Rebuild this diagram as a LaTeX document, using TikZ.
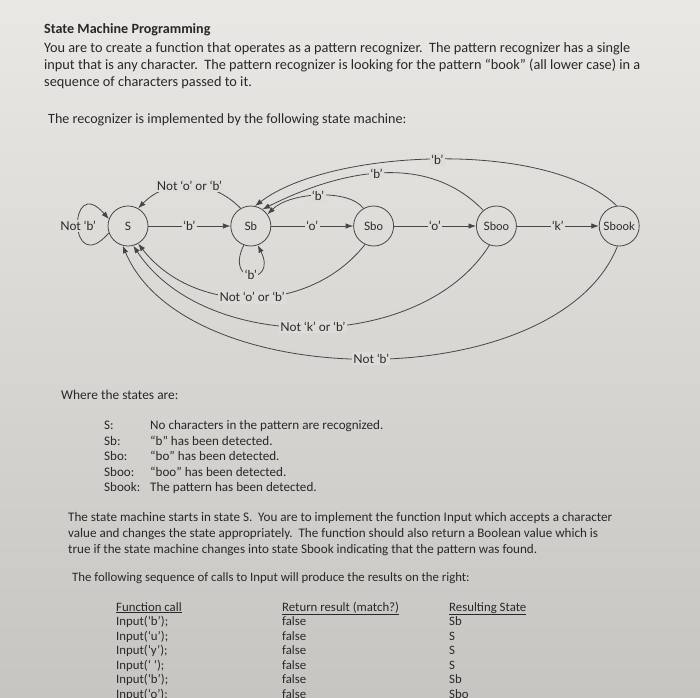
\documentclass[tikz,border=0pt]{standalone}
\usepackage{fontspec}
\setmainfont{Carlito}
\newfontfamily\diagfont{Lato}
\usetikzlibrary{positioning,arrows.meta}

\definecolor{papertop}{RGB}{234,232,229}
\definecolor{paperlow}{RGB}{199,197,193}
\definecolor{paper}{RGB}{222,220,216}
\definecolor{ink}{RGB}{40,40,40}
\definecolor{wire}{RGB}{70,70,70}

\begin{document}
\begin{tikzpicture}[
    x=1pt, y=-1pt,
    node distance=82pt,
    state/.style={
        draw=wire,
        line width=0.8pt,
        circle,
        minimum size=40pt,
        inner sep=0pt,
        text=ink,
        font=\diagfont\fontsize{11.5}{13}\selectfont
    },
    lbl/.style={fill=paper, inner sep=1.5pt, text=ink, font=\diagfont\fontsize{12.3}{14}\selectfont},
    arrow/.style={-{Latex[length=7.5pt,width=5.5pt]}, line width=0.8pt, draw=wire},
    para/.style={anchor=base west, inner sep=0pt, align=left, text=ink}
]

\useasboundingbox (0,0) rectangle (700,697);
\shade[top color=papertop, bottom color=paperlow] (0,0) rectangle (700,697);

% heading and introduction (a multi-line node sits on its last baseline)
\node[para, font=\bfseries\fontsize{14.1}{17}\selectfont] (title) at (44,33.5) {State Machine Programming};
\node[para, font=\fontsize{14.3}{17}\selectfont] (intro) at (44,86) {
You are to create a function that operates as a pattern recognizer.\ \ The pattern recognizer has a single\\
input that is any character.\ \ The pattern recognizer is looking for the pattern “book” (all lower case) in a\\
sequence of characters passed to it.
};
\node[para, font=\fontsize{14.1}{17}\selectfont] (lead) at (48,123) {The recognizer is implemented by the following state machine:};

% states
\node[state] (S) at (128,226) {S};
\node[state, right=of S] (Sb) {Sb};
\node[state, right=of Sb] (Sbo) {Sbo};
\node[state, right=of Sbo] (Sboo) {Sboo};
\node[state, right=of Sboo] (Sbook) {Sbook};

% forward transitions
\draw[arrow] (S) -- node[lbl] {‘b’} (Sb);
\draw[arrow] (Sb) -- node[lbl] {‘o’} (Sbo);
\draw[arrow] (Sbo) -- node[lbl] {‘o’} (Sboo);
\draw[arrow] (Sboo) -- node[lbl] {‘k’} (Sbook);

% loops
\draw[arrow] (S.200) .. controls +(-41,47) and +(-41,-47) .. node[lbl] {Not ‘b’} (S.160);
\draw[arrow] (Sb.250) .. controls +(-20,40) and +(20,40) .. node[lbl] {‘b’} (Sb.290);

% back to Sb
\draw[arrow] (Sbo.120) .. controls +(-15,-20) and +(22,-22) .. node[lbl] {‘b’} (Sb.35);
\draw[arrow] (Sboo.130) .. controls +(-60,-62) and +(70,-35) .. node[lbl] {‘b’} (Sb.55);
\draw[arrow] (Sbook.97) .. controls +(-70,-67) and +(74,-57) .. node[lbl] {‘b’} (Sb.78);

% back to S
\draw[arrow] (Sb.120) .. controls +(-29,-30) and +(29,-30) .. node[lbl] {Not ‘o’ or ‘b’} (S.60);
\draw[arrow] (Sbo.245) .. controls +(-55,70) and +(56,72) .. node[lbl] {Not ‘o’ or ‘b’} (S.300);
\draw[arrow] (Sboo.250) .. controls +(-68,108) and +(72,109) .. node[lbl] {Not ‘k’ or ‘b’} (S.285);
\draw[arrow] (Sbook.265) .. controls +(-60,150) and +(63,150) .. node[lbl] {Not ‘b’} (S.255);

% state meanings
\node[para, font=\fontsize{13.4}{17}\selectfont] (where) at (61,399) {Where the states are:};
\node[para, font=\fontsize{13.1}{15.5}\selectfont] (names) at (104,491.5) {S:\\Sb:\\Sbo:\\Sboo:\\Sbook:};
\node[para, font=\fontsize{13.1}{15.5}\selectfont] (meanings) at (150,491.5) {
No characters in the pattern are recognized.\\
“b” has been detected.\\
“bo” has been detected.\\
“boo” has been detected.\\
The pattern has been detected.
};

% task
\node[para, font=\fontsize{13.1}{16}\selectfont] (task) at (68,553) {
The state machine starts in state S.\ \ You are to implement the function Input which accepts a character\\
value and changes the state appropriately.\ \ The function should also return a Boolean value which is\\
true if the state machine changes into state Sbook indicating that the pattern was found.
};
\node[para, font=\fontsize{12.8}{16}\selectfont] (follow) at (72,581) {The following sequence of calls to Input will produce the results on the right:};

% sequence of calls
\node[para, font=\fontsize{12.8}{14.5}\selectfont] (calls) at (116,698) {
\underline{Function call}\\
Input(‘b’);\\
Input(‘u’);\\
Input(‘y’);\\
Input(‘ ’);\\
Input(‘b’);\\
Input(‘o’);
};
\node[para, font=\fontsize{12.8}{14.5}\selectfont] (results) at (282,698) {
\underline{Return result (match?)}\\
false\\
false\\
false\\
false\\
false\\
false
};
\node[para, font=\fontsize{12.8}{14.5}\selectfont] (states) at (449,698) {
\underline{Resulting State}\\
Sb\\
S\\
S\\
S\\
Sb\\
Sbo
};

\end{tikzpicture}
\end{document}
